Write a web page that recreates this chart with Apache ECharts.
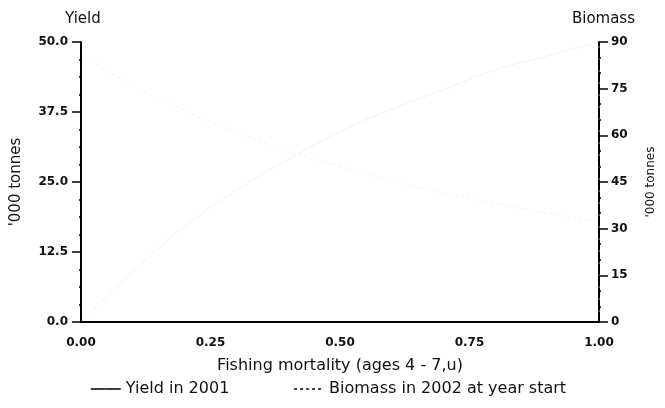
<!DOCTYPE html>
<html>
<head>
<meta charset="utf-8">
<script src="https://cdn.jsdelivr.net/npm/echarts@6/dist/echarts.min.js"></script>
<style>
html, body { margin: 0; padding: 0; background: #fff; }
#chart { width: 665px; height: 408px; }
</style>
</head>
<body>
<div id="chart"></div>
<script>
// values read (roughly) off the faded scan
var fishingMortality = [0, 0.1, 0.2, 0.3, 0.4, 0.5, 0.6, 0.7, 0.8, 0.9, 1.0];
var yield2001 = [0, 9, 17, 23.5, 29, 34, 38, 41.5, 45, 47.5, 50];
var biomass2002 = [86, 76, 68, 61, 55, 50, 45.5, 41.5, 38, 35, 32];

var font = 'DejaVu Sans, Verdana, sans-serif';

function pairs(xs, ys) {
    var out = [];
    for (var i = 0; i < xs.length; i++) out.push([xs[i], ys[i]]);
    return out;
}

var chart = echarts.init(document.getElementById('chart'), null, { renderer: 'canvas' });

var option = {
    backgroundColor: '#fff',
    animation: false,
    textStyle: { fontFamily: font, color: '#111' },
    title: [
        { text: 'Yield', left: 60, top: 7, textStyle: { fontSize: 15, fontWeight: 'normal', color: '#111', fontFamily: font } },
        { text: 'Biomass', right: 25, top: 7, textStyle: { fontSize: 15, fontWeight: 'normal', color: '#111', fontFamily: font } }
    ],
    grid: { left: 81, right: 55, top: 42, bottom: 86 },
    legend: {
        bottom: 6,
        left: 85,
        itemWidth: 30,
        itemHeight: 2,
        itemGap: 64,
        textStyle: { fontSize: 16, color: '#111', fontFamily: font },
        data: [
            { name: 'Yield in 2001', lineStyle: { opacity: 1, width: 1.5, color: '#000' } },
            { name: 'Biomass in 2002 at year start', lineStyle: { opacity: 1, width: 1.5, color: '#000', type: [3, 3] } }
        ]
    },
    xAxis: {
        type: 'value',
        min: 0,
        max: 1,
        interval: 0.25,
        name: 'Fishing mortality (ages 4 - 7,u)',
        nameLocation: 'middle',
        nameGap: 36,
        nameTextStyle: { fontSize: 16, color: '#111', fontFamily: font },
        axisLine: { onZero: false, lineStyle: { color: '#000', width: 2 } },
        axisTick: { show: false },
        splitLine: { show: false },
        axisLabel: {
            margin: 15,
            fontSize: 12,
            fontWeight: 'bold',
            color: '#111',
            formatter: function (v) { return v.toFixed(2); }
        }
    },
    yAxis: [
        {
            type: 'value',
            min: 0,
            max: 50,
            interval: 12.5,
            name: "'000 tonnes",
            nameLocation: 'middle',
            nameRotate: 90,
            nameGap: 57,
            nameTextStyle: { fontSize: 15, color: '#111', fontFamily: font },
            axisLine: { show: true, lineStyle: { color: '#000', width: 2 } },
            axisTick: { show: true, length: 9, lineStyle: { color: '#000', width: 1.5 } },
            minorTick: { show: true, splitNumber: 4, length: 2, lineStyle: { color: '#000', width: 1.5 } },
            splitLine: { show: false },
            axisLabel: {
                margin: 13,
                fontSize: 12,
                fontWeight: 'bold',
                color: '#111',
                formatter: function (v) { return v.toFixed(1); }
            }
        },
        {
            type: 'value',
            position: 'right',
            min: 0,
            max: 90,
            interval: 15,
            name: "'000 tonnes",
            nameLocation: 'middle',
            nameRotate: 90,
            nameGap: 46,
            nameTextStyle: { fontSize: 12, color: '#111', fontFamily: font },
            axisLine: { show: true, lineStyle: { color: '#000', width: 2, type: [10, 2] } },
            axisTick: { show: true, length: 9, lineStyle: { color: '#000', width: 1.5 } },
            minorTick: { show: true, splitNumber: 3, length: 2, lineStyle: { color: '#000', width: 1.5 } },
            splitLine: { show: false },
            axisLabel: { margin: 12, fontSize: 12, fontWeight: 'bold', color: '#111' }
        }
    ],
    series: [
        {
            name: 'Yield in 2001',
            type: 'line',
            yAxisIndex: 0,
            symbol: 'none',
            smooth: true,
            data: pairs(fishingMortality, yield2001),
            // the scan has almost lost these lines
            lineStyle: { color: '#000', width: 0.8, opacity: 0.07 }
        },
        {
            name: 'Biomass in 2002 at year start',
            type: 'line',
            yAxisIndex: 1,
            symbol: 'none',
            smooth: true,
            data: pairs(fishingMortality, biomass2002),
            lineStyle: { color: '#000', width: 0.8, opacity: 0.07, type: [3, 3] }
        }
    ]
};

chart.setOption(option);
</script>
</body>
</html>
